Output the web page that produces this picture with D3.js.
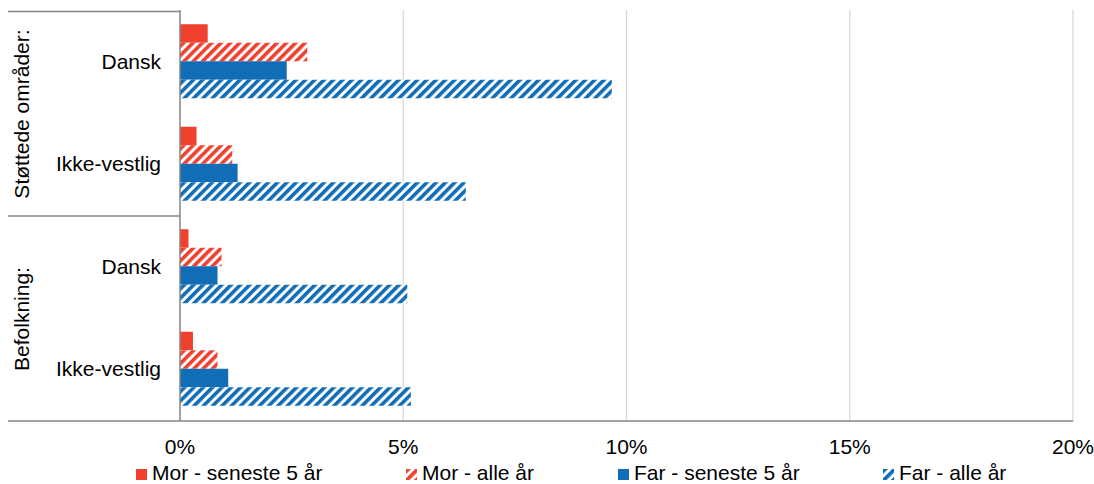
<!DOCTYPE html>
<html><head><meta charset="utf-8">
<script src="https://cdn.jsdelivr.net/npm/d3@7"></script>
<style>body{margin:0;background:#fff}svg{display:block}text{font-family:"Liberation Sans",Arial,sans-serif;fill:#000}</style>
</head><body><svg id="c" width="1094" height="484"></svg>
<script>
const groups = ["Støttede områder:", "Befolkning:"];
const categories = ["Dansk", "Ikke-vestlig", "Dansk", "Ikke-vestlig"];
const categoryGroup = [0, 0, 1, 1];
const seriesNames = ["Mor - seneste 5 år", "Mor - alle år", "Far - seneste 5 år", "Far - alle år"];
const morSeneste = [0.62, 0.37, 0.19, 0.29];
const morAlle = [2.85, 1.17, 0.93, 0.84];
const farSeneste = [2.39, 1.29, 0.84, 1.08];
const farAlle = [9.67, 6.40, 5.09, 5.17];
const xTicks = [0, 5, 10, 15, 20];
const seriesValues = [morSeneste, morAlle, farSeneste, farAlle];
const seriesColors = ["#F0412F", "#F0412F", "#116DB6", "#116DB6"];
const seriesHatched = [false, true, false, true];

const FS = 21;
const svg = d3.select("#c");
const defs = svg.append("defs");
["red", "blue"].forEach((n, i) => {
  const col = i === 0 ? "#F0412F" : "#116DB6";
  const p = defs.append("pattern").attr("id", "h-" + n).attr("patternUnits", "userSpaceOnUse")
    .attr("width", 6.6).attr("height", 6.6).attr("patternTransform", "rotate(45)");
  p.append("rect").attr("width", 6.6).attr("height", 6.6).attr("fill", "#fff");
  p.append("rect").attr("x", 0).attr("y", 0).attr("width", 3.6).attr("height", 6.6).attr("fill", col);
});
const fillFor = i => seriesHatched[i] ? (i < 2 ? "url(#h-red)" : "url(#h-blue)") : seriesColors[i];

const x = d3.scaleLinear().domain([0, 20]).range([180, 1073]);
const y = d3.scaleBand().domain(d3.range(categories.length)).range([10, 420]);
const ySub = d3.scaleBand().domain(d3.range(4)).range([0, y.bandwidth()]).paddingOuter(0.77).paddingInner(0);

// gridlines
svg.append("g").selectAll("line").data(xTicks.slice(1)).join("line")
  .attr("x1", d => x(d)).attr("x2", d => x(d)).attr("y1", 10).attr("y2", 421)
  .attr("stroke", "#d9d9d9").attr("stroke-width", 1.3);

// bars
categories.forEach((c, ci) => {
  seriesValues.forEach((vals, si) => {
    svg.append("rect")
      .attr("x", x(0)).attr("y", y(ci) + ySub(si))
      .attr("width", x(vals[ci]) - x(0)).attr("height", ySub.bandwidth())
      .attr("fill", fillFor(si));
  });
});

// axes lines
const lc = "#858585";
svg.append("line").attr("x1", 180).attr("x2", 180).attr("y1", 10).attr("y2", 421).attr("stroke", lc).attr("stroke-width", 1.5);
svg.append("line").attr("x1", 8).attr("x2", 1073).attr("y1", 421).attr("y2", 421).attr("stroke", lc).attr("stroke-width", 1.5);
svg.append("line").attr("x1", 8).attr("x2", 180).attr("y1", 11.5).attr("y2", 11.5).attr("stroke", lc).attr("stroke-width", 1.5);
svg.append("line").attr("x1", 8).attr("x2", 180).attr("y1", y(2) + 1).attr("y2", y(2) + 1).attr("stroke", lc).attr("stroke-width", 1.5);

// category labels
svg.append("g").selectAll("text").data(categories).join("text")
  .attr("x", 161).attr("y", (d, i) => y(i) + y.bandwidth() / 2 + 7.5)
  .attr("text-anchor", "end").attr("font-size", FS).text(d => d);

// group labels
groups.forEach((g, gi) => {
  const idx = categoryGroup.map((v, i) => v === gi ? i : -1).filter(i => i >= 0);
  const cy = (y(idx[0]) + y(idx[idx.length - 1]) + y.bandwidth()) / 2 + 1.5;
  svg.append("text").attr("transform", `translate(29,${cy}) rotate(-90)`)
    .attr("text-anchor", "middle").attr("font-size", FS).text(g);
});

// x tick labels
svg.append("g").selectAll("text").data(xTicks).join("text")
  .attr("x", d => x(d)).attr("y", 454).attr("text-anchor", "middle").attr("font-size", FS)
  .text(d => d + "%");

// legend
const legX = [136, 406, 618, 883];
seriesNames.forEach((n, i) => {
  const g = svg.append("g").attr("transform", `translate(${legX[i]},469)`);
  g.append("rect").attr("width", 11).attr("height", 11).attr("fill", fillFor(i));
  g.append("text").attr("x", 16).attr("y", 11).attr("font-size", FS).text(n);
});
</script></body></html>
